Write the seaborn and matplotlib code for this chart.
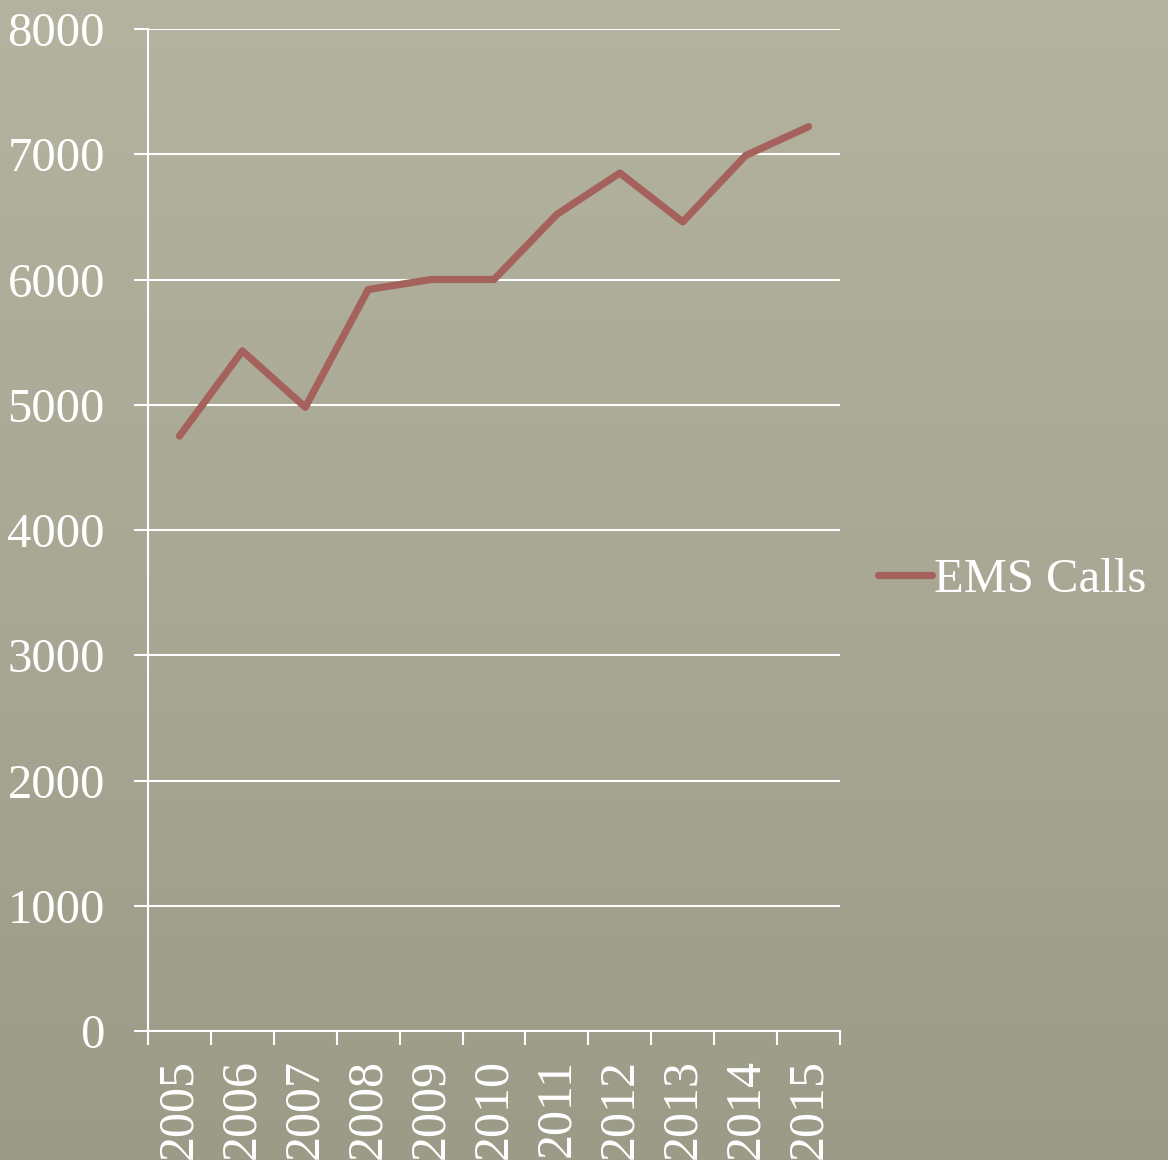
import numpy as np
import pandas as pd
import matplotlib
matplotlib.use("Agg")
import matplotlib.pyplot as plt
from matplotlib.ticker import FixedLocator, NullFormatter
import seaborn as sns

# --- data ---
years = ["2005", "2006", "2007", "2008", "2009", "2010",
         "2011", "2012", "2013", "2014", "2015"]
ems_calls = [4750, 5430, 4980, 5920, 6000, 6000, 6520, 6850, 6460, 6990, 7220]
y_ticks = [0, 1000, 2000, 3000, 4000, 5000, 6000, 7000, 8000]

df = pd.DataFrame({"Year": years, "EMS Calls": ems_calls})

sns.set_theme(style="white")
plt.rcParams["font.family"] = ["Liberation Serif", "DejaVu Serif"]

LINE = "#a5625c"
WHITE = "#ffffff"

fig = plt.figure(figsize=(11.68, 11.6), dpi=100)

# khaki background (vertical gradient)
bg = fig.add_axes([0, 0, 1, 1], zorder=-10)
grad = np.linspace(0, 1, 256).reshape(-1, 1)
bg.imshow(grad, aspect="auto", extent=[0, 1, 0, 1],
          cmap=matplotlib.colors.LinearSegmentedColormap.from_list(
              "bg", ["#b4b3a0", "#a9a894", "#9c9b87"]))
bg.axis("off")

ax = fig.add_axes([0.1267, 0.1112, 0.5925, 0.8638])
ax.set_facecolor("none")

sns.lineplot(data=df, x="Year", y="EMS Calls", ax=ax, color=LINE,
             sort=False, label="EMS Calls")
for ln in ax.get_lines():
    ln.set_linewidth(5.2)
    ln.set_solid_capstyle("round")
    ln.set_solid_joinstyle("round")

n = len(years)
ax.set_xlim(-0.5, n - 0.5)
ax.set_ylim(0, 8000)

# category boundaries get the tick marks, centres get the labels
ax.xaxis.set_major_locator(FixedLocator(np.arange(-0.5, n, 1.0)))
ax.xaxis.set_major_formatter(NullFormatter())
ax.set_xticks(np.arange(n), labels=years, minor=True)
ax.tick_params(axis="x", which="major", length=10, width=1.5,
               color=WHITE, direction="out", bottom=True)
ax.tick_params(axis="x", which="minor", length=0, pad=20,
               labelsize=36, labelcolor=WHITE, labelrotation=90)

ax.set_yticks(y_ticks)
ax.set_yticklabels([str(v) for v in y_ticks])
ax.tick_params(axis="y", length=10, width=1.5, color=WHITE,
               direction="out", left=True, pad=21,
               labelsize=35, labelcolor=WHITE)

ax.yaxis.grid(True, color=WHITE, linewidth=1.5)
ax.xaxis.grid(False)
ax.set_axisbelow(True)

for side in ["top", "right"]:
    ax.spines[side].set_visible(False)
for side in ["left", "bottom"]:
    ax.spines[side].set_color(WHITE)
    ax.spines[side].set_linewidth(1.5)

ax.set_xlabel("")
ax.set_ylabel("")

leg = ax.legend(loc="center left", bbox_to_anchor=(0.752, 0.5),
                bbox_transform=fig.transFigure, frameon=False,
                fontsize=35, handlelength=1.1, handletextpad=0.05,
                borderaxespad=0, borderpad=0)
for t in leg.get_texts():
    t.set_color(WHITE)
for h in leg.legend_handles:
    h.set_linewidth(5.2)
    h.set_solid_capstyle("round")

fig.savefig("out.png", dpi=100)
